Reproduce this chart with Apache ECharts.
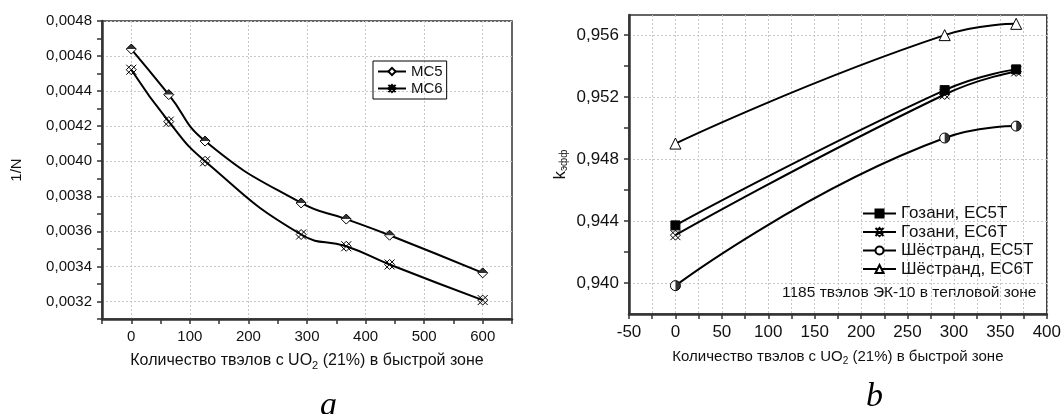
<!DOCTYPE html>
<html>
<head>
<meta charset="utf-8">
<script src="https://cdn.jsdelivr.net/npm/echarts@6/dist/echarts.min.js"></script>
<style>html,body{margin:0;background:#fff}#tu{width:1064px;height:414px}</style>
</head>
<body>
<div id="tu"></div>
<script>
// --- график a ---
const xA = [0, 64, 126, 290, 367, 441, 600];
const mc5 = [0.00464, 0.00438, 0.004115, 0.003762, 0.00367, 0.003578, 0.003363];
const mc6 = [0.004522, 0.004226, 0.0040, 0.003582, 0.003515, 0.003411, 0.003208];
const xLabA = [0, 100, 200, 300, 400, 500, 600];
const xTickA = [-50, 0, 50, 100, 150, 200, 250, 300, 350, 400, 450, 500, 550, 600, 650];
const yLabA = [0.0032, 0.0034, 0.0036, 0.0038, 0.0040, 0.0042, 0.0044, 0.0046, 0.0048];
const yTickA = [0.0031, 0.0032, 0.0033, 0.0034, 0.0035, 0.0036, 0.0037, 0.0038, 0.0039, 0.0040,
    0.0041, 0.0042, 0.0043, 0.0044, 0.0045, 0.0046, 0.0047, 0.0048];

// --- график b ---
const xB = [0, 290, 367];
const goz5 = [0.94372, 0.95245, 0.95379];
const goz6 = [0.94309, 0.95217, 0.95366];
const sh5 = [0.93983, 0.94936, 0.95013];
const sh6 = [0.9490, 0.9560, 0.95673];
const xLabB = [-50, 0, 50, 100, 150, 200, 250, 300, 350, 400];
const xTickB = [-50, -25, 0, 25, 50, 75, 100, 125, 150, 175, 200, 225, 250, 275, 300, 325, 350, 375, 400];
const yLabB = [0.940, 0.944, 0.948, 0.952, 0.956];
const yTickB = [0.940, 0.942, 0.944, 0.946, 0.948, 0.950, 0.952, 0.954, 0.956];

const namesB = ['Гозани, ЕС5Т', 'Гозани, ЕС6Т', 'Шёстранд, ЕС5Т', 'Шёстранд, ЕС6Т'];

// диапазоны осей и рамки графиков
const rA = { x: [-50, 650], y: [0.0031, 0.0048] };
const rB = { x: [-50, 400], y: [0.938, 0.9573] };
const boxA = { left: 102, top: 21, width: 410, height: 298 };
const boxB = { left: 629, top: 15, width: 420, height: 299 };

const shr = 'Liberation Sans';
const zvezda = 'path://M-5,-5L5,5M-5,5L5,-5M0,-5L5,0L0,5L-5,0Z';
const pol = (xs, ys) => xs.map((x, i) => [x, ys[i]]);
const sera = { color: '#c8c8c8', type: [2, 2], width: 1 };

function os(gi, labs, ticks, fmt, fs, extra) {
    return Object.assign({
        gridIndex: gi, type: 'value',
        axisLine: { show: true, onZero: false, lineStyle: { color: '#333', width: 2.5 } },
        axisTick: { show: true, customValues: ticks, length: 5, lineStyle: { color: '#333', width: 1.5 } },
        axisLabel: { customValues: labs, formatter: fmt, color: '#111', fontSize: fs, fontFamily: shr, margin: 10 },
        splitLine: { show: false }
    }, extra);
}

// под-сетка, покрывающая только часть рамки: по ней рисуется пунктир
function podGrid(box, r, dim, lo, hi) {
    const g = Object.assign({}, box);
    if (dim === 'x') {
        const k = box.width / (r.x[1] - r.x[0]);
        g.left = box.left + (lo - r.x[0]) * k;
        g.width = (hi - lo) * k;
    } else {
        const k = box.height / (r.y[1] - r.y[0]);
        g.top = box.top + (r.y[1] - hi) * k;
        g.height = (hi - lo) * k;
    }
    return g;
}
function setkaOs(gi, lo, hi, step) {
    return {
        gridIndex: gi, type: 'value', min: lo, max: hi, interval: step,
        axisLine: { show: false }, axisTick: { show: false }, axisLabel: { show: false },
        splitLine: { show: true, lineStyle: sera }
    };
}
const pustaya = gi => ({ gridIndex: gi, type: 'value', show: false, min: 0, max: 1 });

function liniya(name, d, xi, yi, sym, size, fill) {
    return {
        name, type: 'line', xAxisIndex: xi, yAxisIndex: yi, data: d, smooth: 0.5,
        symbol: sym, symbolSize: size, showAllSymbol: true, z: 3,
        lineStyle: { color: '#000', width: 2 },
        itemStyle: { color: fill, borderColor: '#000', borderWidth: 1 },
        emphasis: { disabled: true }
    };
}

const nameA = 'Количество твэлов с UO{s|2} (21%) в быстрой зоне';
const podp = { fontFamily: 'Liberation Serif', fontStyle: 'italic', fontWeight: 'normal', fontSize: 34, color: '#000' };
const ramka = { show: true, borderColor: '#333', borderWidth: 1.5 };

const chart = echarts.init(document.getElementById('tu'));
chart.setOption({
    animation: false,
    textStyle: { fontFamily: shr },
    title: [
        { text: 'a', left: 320, top: 389, padding: 0, textStyle: podp },
        { text: 'b', left: 866, top: 380, padding: 0, textStyle: podp }
    ],
    grid: [
        Object.assign({}, boxA, ramka),
        Object.assign({}, boxB, ramka),
        podGrid(boxA, rA, 'x', xLabA[0], xLabA[xLabA.length - 1]),
        podGrid(boxA, rA, 'y', yLabA[0], yLabA[yLabA.length - 1]),
        podGrid(boxB, rB, 'y', yLabB[0], yLabB[yLabB.length - 1])
    ],
    xAxis: [
        os(0, xLabA, xTickA, v => String(v), 15, {
            min: rA.x[0], max: rA.x[1], name: nameA, nameLocation: 'middle', nameGap: 32,
            nameTextStyle: { fontSize: 16, color: '#111', rich: { s: { fontSize: 11, padding: [9, 0, 0, 0] } } }
        }),
        os(1, xLabB, xTickB, v => String(v), 17, {
            min: rB.x[0], max: rB.x[1], interval: 50, splitLine: { show: true, lineStyle: sera },
            name: nameA, nameLocation: 'middle', nameGap: 33,
            nameTextStyle: { fontSize: 15, color: '#111', rich: { s: { fontSize: 10, padding: [9, 0, 0, 0] } } }
        }),
        setkaOs(2, xLabA[0], xLabA[xLabA.length - 1], 100),
        pustaya(3),
        pustaya(4)
    ],
    yAxis: [
        os(0, yLabA, yTickA, v => v.toFixed(4).replace('.', ','), 15, {
            min: rA.y[0], max: rA.y[1], name: '1/N', nameLocation: 'middle', nameGap: 78, nameRotate: 90,
            nameTextStyle: { fontSize: 15, color: '#111' }
        }),
        os(1, yLabB, yTickB, v => v.toFixed(3).replace('.', ','), 17, {
            min: rB.y[0], max: rB.y[1], name: 'k{s|эфф}', nameLocation: 'middle', nameGap: 60, nameRotate: 90,
            nameTextStyle: { fontSize: 17, color: '#111', rich: { s: { fontSize: 10, padding: [8, 0, 0, 0] } } }
        }),
        pustaya(2),
        setkaOs(3, yLabA[0], yLabA[yLabA.length - 1], 0.0002),
        setkaOs(4, yLabB[0], yLabB[yLabB.length - 1], 0.004)
    ],
    legend: [
        {
            data: ['МС5', 'МС6'], orient: 'vertical', left: 373, top: 61, padding: [3, 4],
            borderColor: '#000', borderWidth: 1, itemWidth: 28, itemHeight: 9, itemGap: 2,
            textStyle: { fontSize: 15, color: '#111' }
        },
        {
            data: namesB, orient: 'vertical', left: 862, top: 205, padding: 0,
            itemWidth: 33, itemHeight: 10, itemGap: 1.5,
            textStyle: { fontSize: 17, color: '#111' }
        }
    ],
    graphic: [
        { type: 'text', left: 782, top: 285, style: { text: '1185 твэлов ЭК-10 в тепловой зоне', fontSize: 15.5, fontFamily: shr, fill: '#111' } }
    ],
    series: [
        liniya('МС5', pol(xA, mc5), 0, 0, 'diamond', 10, '#fff'),
        { type: 'scatter', xAxisIndex: 0, yAxisIndex: 0, data: pol(xA, mc5), z: 4, silent: true,
          symbol: 'path://M0,0L10,-10L20,0Z', symbolSize: [10, 5], symbolOffset: [0, -2.5], itemStyle: { color: '#000' } },
        liniya('МС6', pol(xA, mc6), 0, 0, zvezda, 10, 'transparent'),

        liniya(namesB[0], pol(xB, goz5), 1, 1, 'rect', 9, '#000'),
        liniya(namesB[1], pol(xB, goz6), 1, 1, zvezda, 10, 'transparent'),
        liniya(namesB[2], pol(xB, sh5), 1, 1, 'circle', 10, '#fff'),
        { type: 'scatter', xAxisIndex: 1, yAxisIndex: 1, data: pol(xB, sh5), z: 4, silent: true,
          symbol: 'path://M0,-10A10,10 0 0 1 0,10Z', symbolSize: [5, 10], symbolOffset: [2.5, 0], itemStyle: { color: '#000' } },
        liniya(namesB[3], pol(xB, sh6), 1, 1, 'triangle', 11, '#fff')
    ]
});
</script>
</body>
</html>
